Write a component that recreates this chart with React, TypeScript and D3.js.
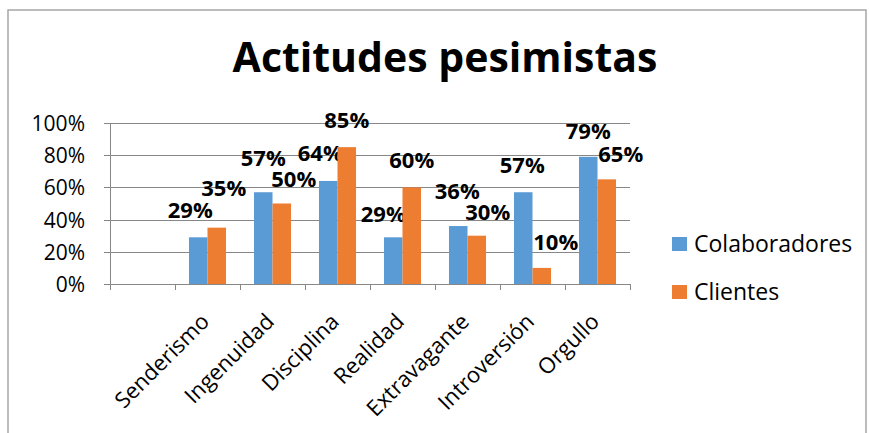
import React, { useEffect, useRef } from "react";
import * as d3 from "d3";

// chart data
const categories = ["", "Senderismo", "Ingenuidad", "Disciplina", "Realidad", "Extravagante", "Introversión", "Orgullo"];
const colaboradores = [null, 0.29, 0.57, 0.64, 0.29, 0.36, 0.57, 0.79];
const clientes = [null, 0.35, 0.5, 0.85, 0.6, 0.3, 0.1, 0.65];
const yTicks = [0, 0.2, 0.4, 0.6, 0.8, 1];
const seriesNames = ["Colaboradores", "Clientes"];

// label nudges (dx from bar centre, baseline offset from bar top), as placed in the original
const labelNudge = [
  [[0, 0], [-8, -19], [0, -26], [-8, -20], [-10, -15], [-1, -27], [-1, -19], [0, -18]],
  [[0, 0], [7, -32], [12, -17], [0, -19], [0, -19], [11, -16], [14, -18], [14, -17]],
];

const colors = ["#5B9BD5", "#ED7D31"];
const FONT = "'Open Sans', sans-serif";

const App = () => {
  const ref = useRef<SVGSVGElement>(null);

  useEffect(() => {
    if (!ref.current) return;
    document.body.style.margin = "0";
    const svg = d3.select(ref.current);
    svg.selectAll("*").remove();

    const width = 869;
    const height = 433;
    const plot = { left: 110, right: 630, top: 123, bottom: 284 };

    svg.attr("width", width).attr("height", height).style("display", "block");

    // chart frame
    svg
      .append("path")
      .attr("d", `M8,${height} V10 H866 V${height}`)
      .attr("fill", "none")
      .attr("stroke", "#A6A6A6")
      .attr("stroke-width", 1.5);

    svg
      .append("text")
      .attr("x", 445)
      .attr("y", 72)
      .attr("text-anchor", "middle")
      .style("font-family", FONT)
      .style("font-weight", "bold")
      .style("font-size", "41px")
      .text("Actitudes pesimistas");

    const x = d3
      .scaleBand()
      .domain(categories.map((c, i) => String(i)))
      .range([plot.left, plot.right])
      .paddingInner(0.43)
      .paddingOuter(0.215);
    const step = x.step();

    const y = d3.scaleLinear().domain([0, 1]).range([plot.bottom, plot.top]);

    const sub = d3
      .scaleBand()
      .domain(seriesNames)
      .range([0, x.bandwidth()]);

    // grid lines
    svg
      .append("g")
      .selectAll("line")
      .data(yTicks)
      .enter()
      .append("line")
      .attr("x1", plot.left - 6)
      .attr("x2", plot.right)
      .attr("y1", (d) => Math.round(y(d)) + 0.5)
      .attr("y2", (d) => Math.round(y(d)) + 0.5)
      .attr("stroke", "#878787")
      .attr("stroke-width", 1);

    svg
      .append("g")
      .selectAll("text")
      .data(yTicks)
      .enter()
      .append("text")
      .attr("x", 85)
      .attr("y", (d) => y(d) + 8)
      .attr("text-anchor", "end")
      .style("font-family", FONT)
      .style("font-size", "21px")
      .text((d) => d3.format(".0%")(d));

    // y axis line
    svg
      .append("line")
      .attr("x1", plot.left + 0.5)
      .attr("x2", plot.left + 0.5)
      .attr("y1", plot.top)
      .attr("y2", plot.bottom)
      .attr("stroke", "#878787");

    // x ticks at category boundaries
    const bounds = d3.range(categories.length + 1).map((i) => plot.left + i * step);
    svg
      .append("g")
      .selectAll("line")
      .data(bounds)
      .enter()
      .append("line")
      .attr("x1", (d) => Math.round(d) + 0.5)
      .attr("x2", (d) => Math.round(d) + 0.5)
      .attr("y1", plot.bottom)
      .attr("y2", plot.bottom + 6)
      .attr("stroke", "#878787");

    const seriesData = [colaboradores, clientes];

    seriesData.forEach((vals, s) => {
      const g = svg.append("g");
      const pts = vals
        .map((v, i) => ({ v, i }))
        .filter((d) => d.v !== null) as { v: number; i: number }[];

      g.selectAll("rect")
        .data(pts)
        .enter()
        .append("rect")
        .attr("x", (d) => (x(String(d.i)) as number) + (sub(seriesNames[s]) as number))
        .attr("y", (d) => y(d.v))
        .attr("width", sub.bandwidth())
        .attr("height", (d) => y(0) - y(d.v))
        .attr("fill", colors[s]);

      g.selectAll("text")
        .data(pts)
        .enter()
        .append("text")
        .attr(
          "x",
          (d) =>
            (x(String(d.i)) as number) +
            (sub(seriesNames[s]) as number) +
            sub.bandwidth() / 2 +
            labelNudge[s][d.i][0]
        )
        .attr("y", (d) => y(d.v) + labelNudge[s][d.i][1])
        .attr("text-anchor", "middle")
        .style("font-family", FONT)
        .style("font-weight", "bold")
        .style("font-size", "22px")
        .text((d) => d3.format(".0%")(d.v));
    });

    // x axis line
    svg
      .append("line")
      .attr("x1", plot.left)
      .attr("x2", plot.right)
      .attr("y1", plot.bottom + 0.5)
      .attr("y2", plot.bottom + 0.5)
      .attr("stroke", "#878787");

    // category labels, rotated
    svg
      .append("g")
      .selectAll("text")
      .data(categories)
      .enter()
      .append("text")
      .attr("transform", (d, i) => {
        const cx = (x(String(i)) as number) + x.bandwidth() / 2;
        return `translate(${cx + 3},${plot.bottom + 39}) rotate(-45)`;
      })
      .attr("text-anchor", "end")
      .style("font-family", FONT)
      .style("font-size", "22px")
      .text((d) => d);

    // legend
    const legend = svg.append("g");
    seriesNames.forEach((name, i) => {
      const ly = 244 + i * 48;
      legend
        .append("rect")
        .attr("x", 672)
        .attr("y", ly - 7)
        .attr("width", 15)
        .attr("height", 14)
        .attr("fill", colors[i]);
      legend
        .append("text")
        .attr("x", 694)
        .attr("y", ly + 8)
        .style("font-family", FONT)
        .style("font-size", "23px")
        .text(name);
    });
  }, []);

  return <svg ref={ref} />;
};

export default App;
